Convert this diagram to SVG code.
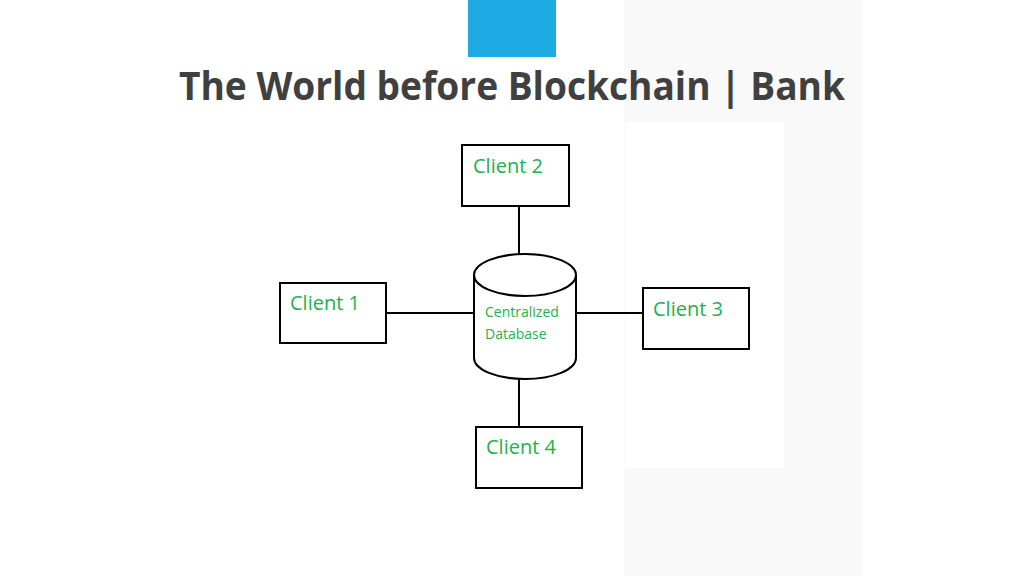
<svg xmlns="http://www.w3.org/2000/svg" width="1024" height="576" viewBox="0 0 1024 576">
<style>
.box{fill:#fff;stroke:#000;stroke-width:2}
.lbl{font-family:"Open Sans","Noto Sans",sans-serif;fill:#22b14c;font-size:20px}
.sm{font-size:14px}
.conn line{stroke:#000;stroke-width:2}
</style>
<rect x="0" y="0" width="1024" height="576" fill="#fff"/>
<rect x="624" y="0" width="239" height="576" fill="#f9f9f9"/>
<rect x="625" y="122" width="159" height="346" fill="#fff"/>
<rect x="468" y="0" width="88" height="57" fill="#1eaae2"/>
<text x="179" y="100" font-family="'Open Sans','Noto Sans',sans-serif" font-weight="bold" font-size="40" fill="#404040" textLength="666" lengthAdjust="spacingAndGlyphs">The World before Blockchain | Bank</text>
<g class="conn">
<line x1="519" y1="206" x2="519" y2="254"/>
<line x1="387" y1="313" x2="474" y2="313"/>
<line x1="576" y1="313" x2="643" y2="313"/>
<line x1="519" y1="379" x2="519" y2="427"/>
</g>
<g id="db">
<path d="M474,275 L474,358 A51,21 0 0 0 576,358 L576,275 A51,21 0 0 0 474,275 Z" fill="#fff" stroke="#000" stroke-width="2"/>
<path d="M474,275 A51,21 0 0 0 576,275" fill="none" stroke="#000" stroke-width="2"/>
<text class="lbl sm" x="485" y="317">Centralized</text>
<text class="lbl sm" x="485" y="339">Database</text>
</g>
<g id="client2">
<rect class="box" x="462" y="145" width="107" height="61"/>
<text class="lbl" x="473" y="173">Client 2</text>
</g>
<g id="client1">
<rect class="box" x="280" y="283" width="106" height="60"/>
<text class="lbl" x="290" y="310">Client 1</text>
</g>
<g id="client3">
<rect class="box" x="643" y="288" width="106" height="61"/>
<text class="lbl" x="653" y="316">Client 3</text>
</g>
<g id="client4">
<rect class="box" x="476" y="427" width="106" height="61"/>
<text class="lbl" x="486" y="454">Client 4</text>
</g>
</svg>
